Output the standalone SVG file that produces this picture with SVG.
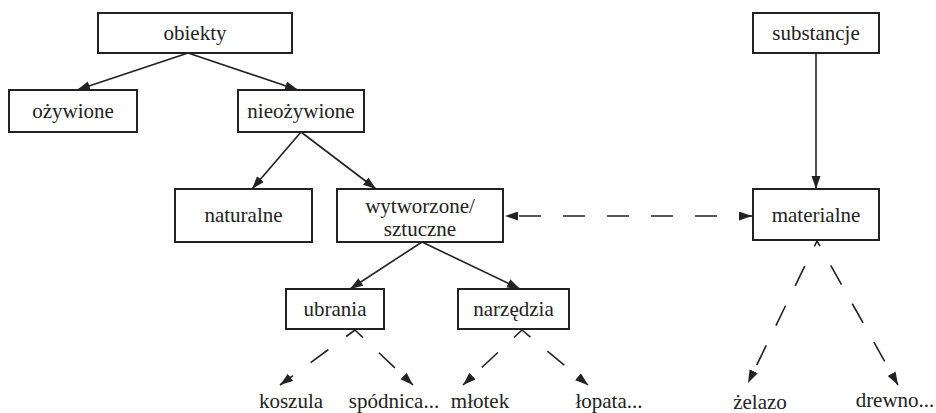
<svg xmlns="http://www.w3.org/2000/svg" width="936" height="413" viewBox="0 0 936 413" font-family="'Liberation Serif', 'Times New Roman', 'DejaVu Serif', serif">
  <style>
    .box { fill: #fff; stroke: #222; stroke-width: 2; }
    .lbl { font-family: 'Liberation Serif', 'Times New Roman', 'DejaVu Serif', serif; font-size: 21px; fill: #222; text-anchor: middle; }
    .edge { fill: none; stroke: #222; stroke-width: 1.6; }
    .dash { stroke-dasharray: 22 22; }
  </style>
  <defs>
    <marker id="head" markerUnits="userSpaceOnUse" markerWidth="14" markerHeight="10" refX="13" refY="4.5" orient="auto">
      <path d="M0,0 L13,4.5 L0,9 z" fill="#222"/>
    </marker>
    <marker id="headStart" markerUnits="userSpaceOnUse" markerWidth="14" markerHeight="10" refX="0" refY="4.5" orient="auto">
      <path d="M13,0 L0,4.5 L13,9 z" fill="#222"/>
    </marker>
  </defs>

  <g id="connectors">
    <line class="edge" x1="188" y1="53" x2="77" y2="90" marker-end="url(#head)"/>
    <line class="edge" x1="188" y1="53" x2="298" y2="90" marker-end="url(#head)"/>
    <line class="edge" x1="301" y1="132" x2="252" y2="189" marker-end="url(#head)"/>
    <line class="edge" x1="301" y1="132" x2="376" y2="189" marker-end="url(#head)"/>
    <line class="edge" x1="422" y1="242" x2="350" y2="289" marker-end="url(#head)"/>
    <line class="edge" x1="422" y1="242" x2="520" y2="289" marker-end="url(#head)"/>
    <line class="edge" x1="816" y1="53" x2="816" y2="189" marker-end="url(#head)"/>
    <line class="edge dash" x1="505" y1="216" x2="752" y2="216" marker-start="url(#headStart)" marker-end="url(#head)" stroke-dashoffset="-14"/>
    <line class="edge dash" x1="355" y1="330" x2="280" y2="385" stroke-dasharray="20 20" stroke-dashoffset="11" marker-end="url(#head)"/>
    <line class="edge dash" x1="355" y1="330" x2="413" y2="385" stroke-dasharray="20 20" stroke-dashoffset="11" marker-end="url(#head)"/>
    <line class="edge dash" x1="522" y1="330" x2="463" y2="385" stroke-dasharray="20 20" stroke-dashoffset="11" marker-end="url(#head)"/>
    <line class="edge dash" x1="522" y1="330" x2="588" y2="385" stroke-dasharray="20 20" stroke-dashoffset="11" marker-end="url(#head)"/>
    <line class="edge dash" x1="817" y1="241" x2="748" y2="383" stroke-dasharray="25 25" stroke-dashoffset="16" marker-end="url(#head)"/>
    <line class="edge dash" x1="817" y1="241" x2="898" y2="385" stroke-dasharray="25 25" stroke-dashoffset="16" marker-end="url(#head)"/>
  </g>

  <g id="obiekty"><rect class="box" x="98" y="13" width="194" height="40"/><text class="lbl" x="195" y="40">obiekty</text></g>
  <g id="ozywione"><rect class="box" x="9" y="90" width="128" height="42"/><text class="lbl" x="73" y="118">ożywione</text></g>
  <g id="nieozywione"><rect class="box" x="238" y="90" width="126" height="42"/><text class="lbl" x="301" y="118">nieożywione</text></g>
  <g id="naturalne"><rect class="box" x="175" y="189" width="137" height="53"/><text class="lbl" x="243.5" y="222">naturalne</text></g>
  <g id="wytworzone"><rect class="box" x="337" y="189" width="166" height="53"/><text class="lbl" x="420" y="213">wytworzone/</text><text class="lbl" x="420" y="236">sztuczne</text></g>
  <g id="ubrania"><rect class="box" x="286" y="289" width="98" height="40"/><text class="lbl" x="335" y="316">ubrania</text></g>
  <g id="narzedzia"><rect class="box" x="458" y="289" width="111" height="40"/><text class="lbl" x="513.5" y="316">narzędzia</text></g>
  <g id="substancje"><rect class="box" x="753" y="13" width="126" height="40"/><text class="lbl" x="816" y="40">substancje</text></g>
  <g id="materialne"><rect class="box" x="753" y="189" width="126" height="51"/><text class="lbl" x="816" y="222">materialne</text></g>
  <g id="koszula"><text class="lbl" x="291" y="408">koszula</text></g>
  <g id="spodnica"><text class="lbl" x="394" y="408">spódnica...</text></g>
  <g id="mlotek"><text class="lbl" x="480" y="408">młotek</text></g>
  <g id="lopata"><text class="lbl" x="609" y="408">łopata...</text></g>
  <g id="zelazo"><text class="lbl" x="760" y="409">żelazo</text></g>
  <g id="drewno"><text class="lbl" x="895" y="407">drewno...</text></g>
</svg>
